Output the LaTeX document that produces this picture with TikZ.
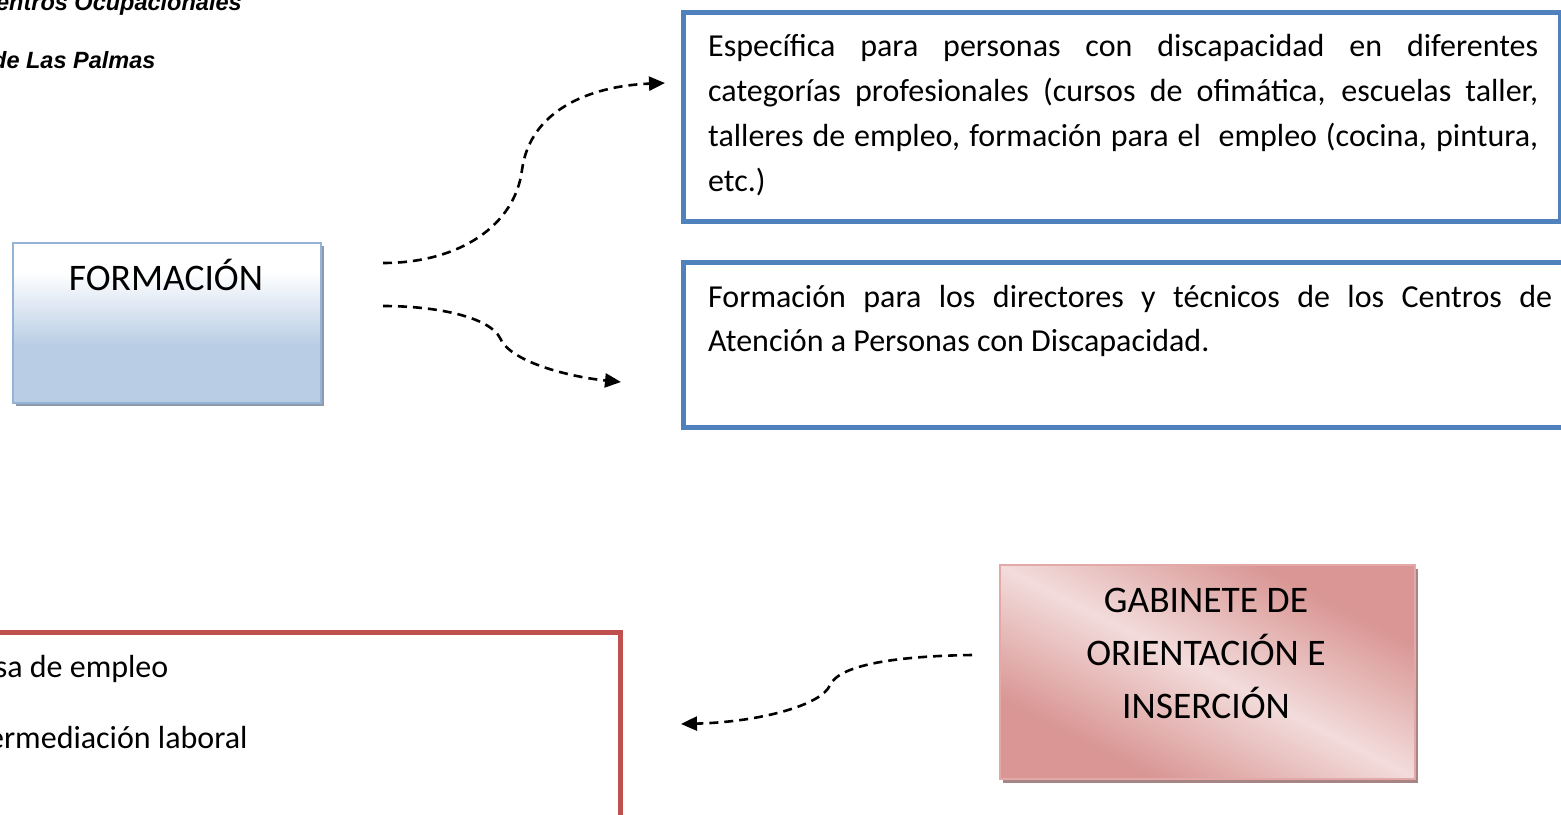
\documentclass[tikz,border=0pt]{standalone}
\usepackage{fontspec}
\setmainfont{Carlito}
\newfontfamily\arialfont{Liberation Sans}
\usetikzlibrary{arrows.meta,shadows}
\definecolor{blueborder}{HTML}{4F81BD}
\definecolor{redborder}{HTML}{C0504D}
\definecolor{formborder}{HTML}{95B3D7}
\definecolor{formfill}{HTML}{B9CDE5}
\definecolor{formshadow}{HTML}{8E9AAC}
\definecolor{gabdark}{HTML}{D99694}
\definecolor{gablight}{HTML}{F2DCDB}
\definecolor{gabborder}{HTML}{E3A9A8}
\definecolor{gabshadow}{HTML}{A88585}
\pgfdeclareverticalshading{formshade}{100bp}{color(0bp)=(formfill); color(43bp)=(formfill); color(66bp)=(white); color(100bp)=(white)}
\pgfdeclareverticalshading{gabshade}{100bp}{color(0bp)=(gabdark); color(29bp)=(gabdark); color(50bp)=(gablight); color(71bp)=(gabdark); color(100bp)=(gabdark)}
\tikzset{
  bluebox/.style={draw=blueborder, line width=5pt, fill=white, inner sep=0pt},
  redbox/.style={draw=redborder, line width=5pt, fill=white, inner sep=0pt},
  formbox/.style={draw=formborder, line width=2pt, shading=formshade, inner sep=0pt,
    drop shadow={shadow xshift=3pt, shadow yshift=-3pt, fill=formshadow, opacity=1}},
  gabbox/.style={draw=gabborder, line width=2pt, shading=gabshade, shading angle=-27, inner sep=0pt,
    drop shadow={shadow xshift=3pt, shadow yshift=-4pt, fill=gabshadow, opacity=1}},
  bodytext/.style={inner sep=0pt, anchor=base west, font=\fontsize{32pt}{45pt}\selectfont},
  titletext/.style={inner sep=0pt, anchor=base, font=\fontsize{37.5pt}{53pt}\selectfont},
  headtext/.style={inner sep=0pt, anchor=base west, font=\arialfont\bfseries\itshape\fontsize{23.5pt}{28pt}\selectfont},
  dasharrow/.style={line width=2.6pt, dash pattern=on 9pt off 6pt, -{Triangle[length=16pt,width=14pt]}}
}
\begin{document}
\begin{tikzpicture}[x=1pt,y=-1pt]
\useasboundingbox (0,0) rectangle (1561,814);
\clip (0,0) rectangle (1561,814);
% header
\node[headtext] (h1) at (-21,10) {Centros Ocupacionales};
\node[headtext] (h2) at (-8,68) {de Las Palmas};
% top box
\node[bluebox, anchor=north west, minimum width=877pt, minimum height=209pt] (b1) at (681,10) {};
\node[bodytext] (l11) at (708,56) {\makebox[830pt][s]{Específica para personas con discapacidad en diferentes}};
\node[bodytext] (l12) at (708,101) {\makebox[830pt][s]{categorías profesionales (cursos de ofimática, escuelas taller,}};
\node[bodytext] (l13) at (708,146) {\makebox[830pt][s]{talleres de empleo, formación para el\ \ empleo (cocina, pintura,}};
\node[bodytext] (l14) at (708,191) {etc.)};
% second box
\node[bluebox, anchor=north west, minimum width=900pt, minimum height=165pt] (b2) at (681,260) {};
\node[bodytext] (l21) at (708,307) {\makebox[844pt][s]{Formación para los directores y técnicos de los Centros de}};
\node[bodytext] (l22) at (708,351) {Atención a Personas con Discapacidad.};
% formacion
\node[formbox, anchor=north west, minimum width=308pt, minimum height=160pt] (f) at (12,242) {};
\node[titletext] (ft) at (166,290) {FORMACIÓN};
% gabinete
\node[gabbox, anchor=north west, minimum width=415pt, minimum height=214pt] (g) at (999,564) {};
\node[titletext] (g1) at (1206,612) {GABINETE DE};
\node[titletext] (g2) at (1206,665) {ORIENTACIÓN E};
\node[titletext] (g3) at (1206,718) {INSERCIÓN};
% red box
\node[redbox, anchor=north east, minimum width=660pt, minimum height=220pt] (r) at (623,630) {};
\node[bodytext] (r1) at (-47,677) {Bolsa de empleo};
\node[bodytext] (r2) at (-47,748) {Intermediación laboral};
% connectors
\coordinate (a1s) at (383,263);
\coordinate (a1e) at (665,83);
\coordinate (a2s) at (383,306);
\coordinate (a2e) at (621,382);
\coordinate (a3s) at (972,655);
\coordinate (a3e) at (681,724);
\draw[dasharrow] (a1s) .. controls (460,263) and (515,225) .. (522,170) .. controls (530,110) and (590,86) .. (a1e);
\draw[dasharrow] (a2s) .. controls (440,306) and (490,318) .. (500,338) .. controls (510,362) and (570,377) .. (a2e);
\draw[dasharrow] (a3s) .. controls (900,656) and (840,664) .. (830,685) .. controls (822,705) and (760,722) .. (a3e);
\end{tikzpicture}
\end{document}
